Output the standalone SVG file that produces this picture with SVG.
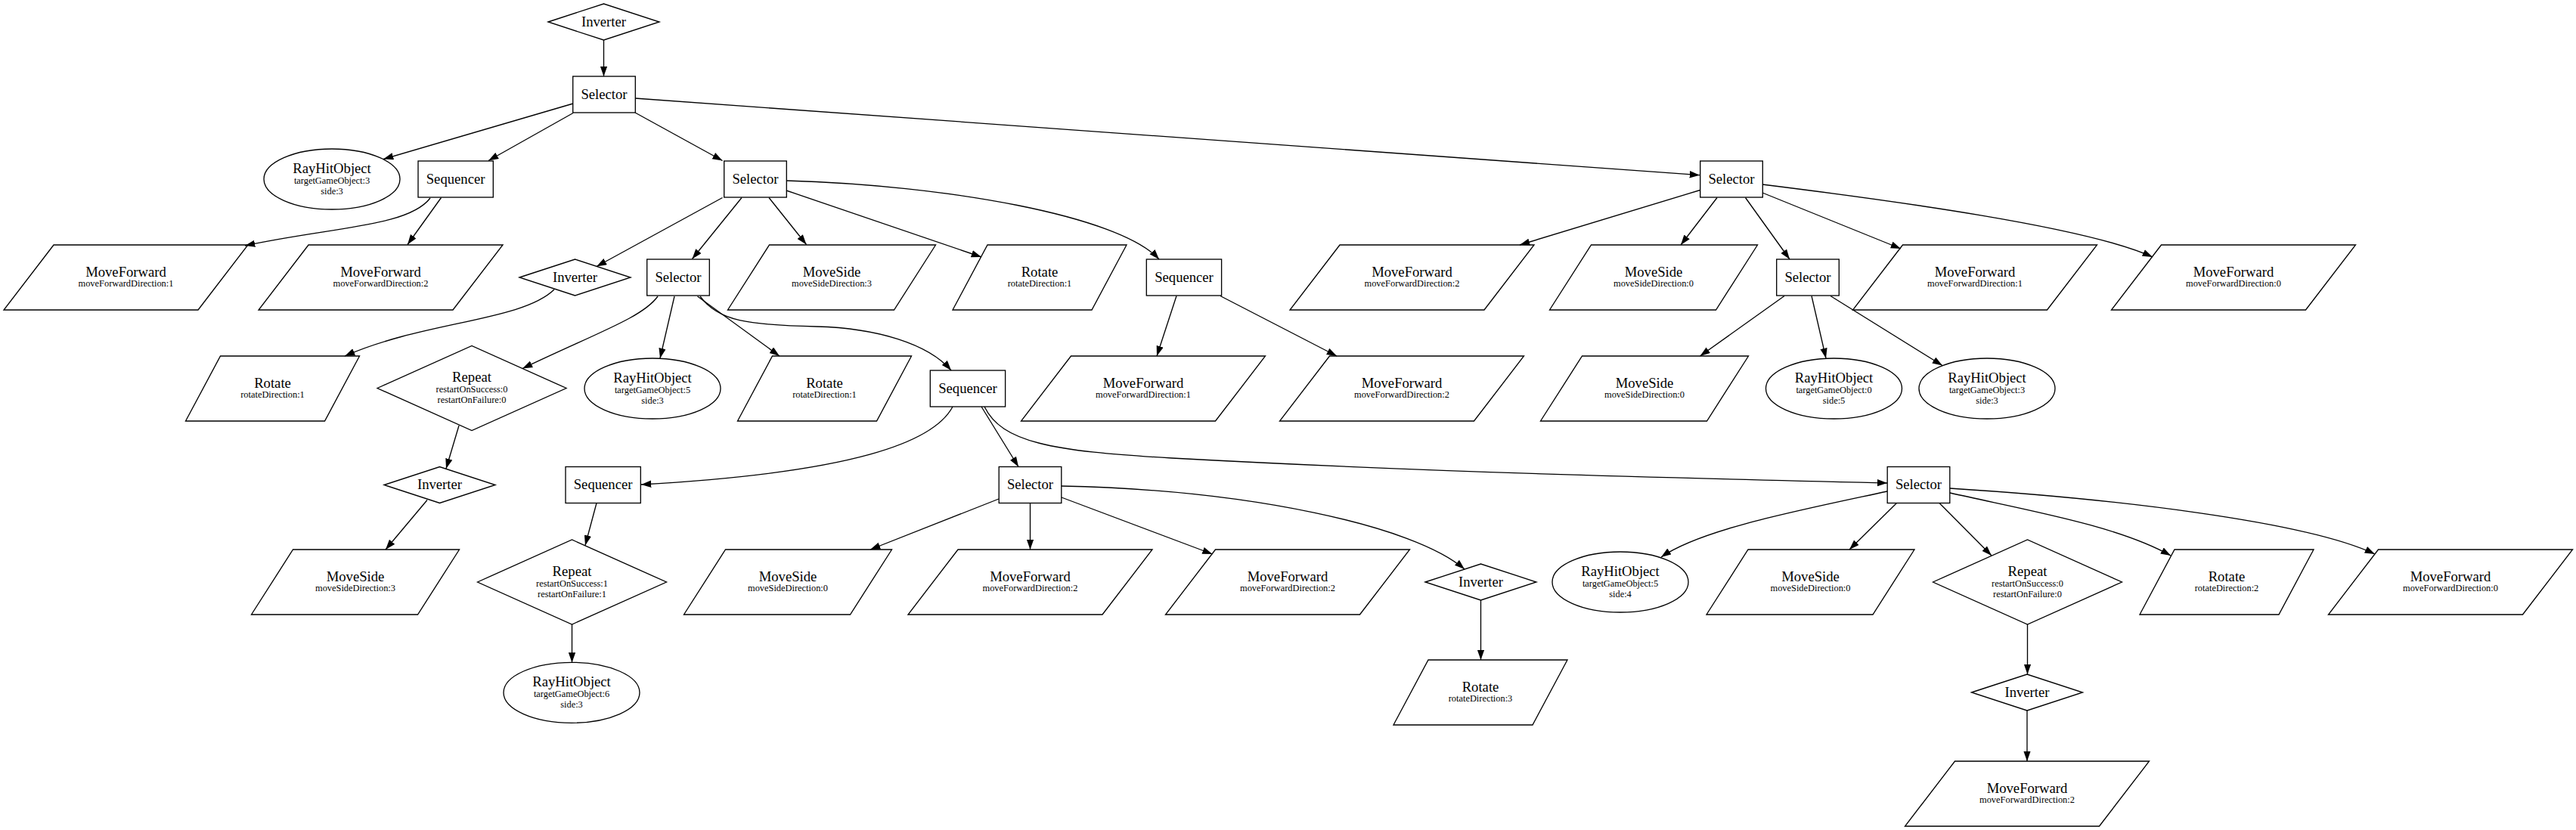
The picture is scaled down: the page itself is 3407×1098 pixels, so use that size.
<svg xmlns="http://www.w3.org/2000/svg" width="3407" height="1098" viewBox="0 0 3407 1098">
<style>
.n{fill:none;stroke:#000;stroke-width:1.33}
.e{fill:none;stroke:#000;stroke-width:1.33;marker-end:url(#arr)}
.t{font-family:"Liberation Serif","Times New Roman",serif;font-size:18.67px;text-anchor:middle;fill:#000}
.s{font-family:"Liberation Serif","Times New Roman",serif;font-size:12.4px;text-anchor:middle;fill:#000}
</style>
<defs>
<marker id="arr" markerUnits="userSpaceOnUse" markerWidth="14" markerHeight="10" refX="13.3" refY="4.67" orient="auto"><path d="M0,0 L13.3,4.67 L0,9.34 z" fill="#000"/></marker>
</defs>
<rect x="0" y="0" width="3407" height="1098" fill="#fff"/>
<g id="edges">
<path class="e" d="M798.5,53 L798.5,101"/>
<path class="e" d="M758,137 L507,210.5"/>
<path class="e" d="M758,149.5 L646,212.5"/>
<path class="e" d="M840,149 L955.5,212.5"/>
<path class="e" d="M840,130 L2248,231.7"/>
<path class="e" d="M569,262 C540,300 440,300 324,325"/>
<path class="e" d="M583.5,261.5 L539,323.5"/>
<path class="e" d="M955.5,261.5 L789,352.5"/>
<path class="e" d="M981,261.5 L915.5,342.5"/>
<path class="e" d="M1017,261.5 L1066.5,323.5"/>
<path class="e" d="M1040,252 L1298,340"/>
<path class="e" d="M1040,239 C1250,245 1480,285 1533,343"/>
<path class="e" d="M733,383 C690,425 560,425 456,471"/>
<path class="e" d="M870,392 C850,420 790,440 691,487.5"/>
<path class="e" d="M892,392 L873,474"/>
<path class="e" d="M922.5,392 L1031,471"/>
<path class="e" d="M926,392 C950,425 990,430 1080,432 C1160,434 1228,455 1258,490"/>
<path class="e" d="M1556,391.5 L1530,471"/>
<path class="e" d="M1614,391.5 L1768,471"/>
<path class="e" d="M1260,538 C1235,585 1130,625 848,641"/>
<path class="e" d="M1298,538 L1347,617.5"/>
<path class="e" d="M1302,538 C1325,585 1390,597 1550,606 C1900,625 2200,632 2496,639"/>
<path class="e" d="M1321,660 L1151,727"/>
<path class="e" d="M1362.5,665.5 L1362.5,727"/>
<path class="e" d="M1404,658 L1603.5,733"/>
<path class="e" d="M1404,643 C1650,648 1870,695 1937,753"/>
<path class="e" d="M1958.5,794 L1958.5,873"/>
<path class="e" d="M2360,391.5 L2248.5,471"/>
<path class="e" d="M2396,391.5 L2415,474"/>
<path class="e" d="M2421,391.5 L2569,483.5"/>
<path class="e" d="M2496,650 C2380,675 2250,700 2197,737"/>
<path class="e" d="M2508.5,665.5 L2446,727"/>
<path class="e" d="M2565,665.5 L2634,735"/>
<path class="e" d="M2579,652 C2680,675 2800,695 2871,735"/>
<path class="e" d="M2579,646 C2800,660 3050,690 3141,733"/>
<path class="e" d="M2681.5,826 L2681.5,892"/>
<path class="e" d="M2681,940 L2681,1007"/>
<path class="e" d="M2248.5,251.5 L2010,324"/>
<path class="e" d="M2271,261.5 L2223,324"/>
<path class="e" d="M2308.5,261.5 L2367,343"/>
<path class="e" d="M2331,255 L2514,329"/>
<path class="e" d="M2331,244 C2500,265 2760,300 2847,340"/>
<path class="e" d="M607,563 L590,620"/>
<path class="e" d="M565,661.5 L510,727"/>
<path class="e" d="M789,665.5 L774,721.5"/>
<path class="e" d="M756.5,826 L756.5,876.5"/>
</g>
<g id="n0"><polygon class="n" points="725,29 798.5,5 872,29 798.5,53"/><text class="t" x="798.5" y="34.5">Inverter</text></g>
<g id="n1"><rect class="n" x="757.7" y="101" width="82.6" height="48"/><text class="t" x="799" y="130.5">Selector</text></g>
<g id="n2"><ellipse class="n" cx="439" cy="237" rx="90" ry="40"/><text class="t" x="439" y="228.5">RayHitObject</text><text class="s" x="439" y="242.5">targetGameObject:3</text><text class="s" x="439" y="256.5">side:3</text></g>
<g id="n3"><rect class="n" x="553" y="213" width="99.3" height="48"/><text class="t" x="602.6" y="242.5">Sequencer</text></g>
<g id="n4"><rect class="n" x="957.7" y="213" width="82.6" height="48"/><text class="t" x="999" y="242.5">Selector</text></g>
<g id="n5"><rect class="n" x="2248.7" y="213" width="82.6" height="48"/><text class="t" x="2290" y="242.5">Selector</text></g>
<g id="n6"><polygon class="n" points="71,324 328,324 262,410 5,410"/><text class="t" x="166.5" y="365.5">MoveForward</text><text class="s" x="166.5" y="379">moveForwardDirection:1</text></g>
<g id="n7"><polygon class="n" points="408,324 665,324 599,410 342,410"/><text class="t" x="503.5" y="365.5">MoveForward</text><text class="s" x="503.5" y="379">moveForwardDirection:2</text></g>
<g id="n8"><polygon class="n" points="687,367 760.5,343 834,367 760.5,391"/><text class="t" x="760.5" y="372.5">Inverter</text></g>
<g id="n9"><rect class="n" x="855.7" y="343" width="82.6" height="48"/><text class="t" x="897" y="372.5">Selector</text></g>
<g id="n10"><polygon class="n" points="1017.5,324 1237.5,324 1182.5,410 962.5,410"/><text class="t" x="1100" y="365.5">MoveSide</text><text class="s" x="1100" y="379">moveSideDirection:3</text></g>
<g id="n11"><polygon class="n" points="1306,324 1490,324 1444,410 1260,410"/><text class="t" x="1375" y="365.5">Rotate</text><text class="s" x="1375" y="379">rotateDirection:1</text></g>
<g id="n12"><rect class="n" x="1516.3" y="343" width="99.3" height="48"/><text class="t" x="1566" y="372.5">Sequencer</text></g>
<g id="n13"><polygon class="n" points="1772,324 2029,324 1963,410 1706,410"/><text class="t" x="1867.5" y="365.5">MoveForward</text><text class="s" x="1867.5" y="379">moveForwardDirection:2</text></g>
<g id="n14"><polygon class="n" points="2104.5,324 2324.5,324 2269.5,410 2049.5,410"/><text class="t" x="2187" y="365.5">MoveSide</text><text class="s" x="2187" y="379">moveSideDirection:0</text></g>
<g id="n15"><rect class="n" x="2349.7" y="343" width="82.6" height="48"/><text class="t" x="2391" y="372.5">Selector</text></g>
<g id="n16"><polygon class="n" points="2516.5,324 2773.5,324 2707.5,410 2450.5,410"/><text class="t" x="2612" y="365.5">MoveForward</text><text class="s" x="2612" y="379">moveForwardDirection:1</text></g>
<g id="n17"><polygon class="n" points="2858.5,324 3115.5,324 3049.5,410 2792.5,410"/><text class="t" x="2954" y="365.5">MoveForward</text><text class="s" x="2954" y="379">moveForwardDirection:0</text></g>
<g id="n18"><polygon class="n" points="291.5,471 475.5,471 429.5,557 245.5,557"/><text class="t" x="360.5" y="512.5">Rotate</text><text class="s" x="360.5" y="526">rotateDirection:1</text></g>
<g id="n19"><polygon class="n" points="499,513.5 624,457.5 749,513.5 624,569.5"/><text class="t" x="624" y="505">Repeat</text><text class="s" x="624" y="519">restartOnSuccess:0</text><text class="s" x="624" y="533">restartOnFailure:0</text></g>
<g id="n20"><ellipse class="n" cx="863" cy="514" rx="90" ry="40"/><text class="t" x="863" y="505.5">RayHitObject</text><text class="s" x="863" y="519.5">targetGameObject:5</text><text class="s" x="863" y="533.5">side:3</text></g>
<g id="n21"><polygon class="n" points="1021.5,471 1205.5,471 1159.5,557 975.5,557"/><text class="t" x="1090.5" y="512.5">Rotate</text><text class="s" x="1090.5" y="526">rotateDirection:1</text></g>
<g id="n22"><rect class="n" x="1230.3" y="490" width="99.3" height="48"/><text class="t" x="1280" y="519.5">Sequencer</text></g>
<g id="n23"><polygon class="n" points="1416.5,471 1673.5,471 1607.5,557 1350.5,557"/><text class="t" x="1512" y="512.5">MoveForward</text><text class="s" x="1512" y="526">moveForwardDirection:1</text></g>
<g id="n24"><polygon class="n" points="1758.5,471 2015.5,471 1949.5,557 1692.5,557"/><text class="t" x="1854" y="512.5">MoveForward</text><text class="s" x="1854" y="526">moveForwardDirection:2</text></g>
<g id="n25"><polygon class="n" points="2092.5,471 2312.5,471 2257.5,557 2037.5,557"/><text class="t" x="2175" y="512.5">MoveSide</text><text class="s" x="2175" y="526">moveSideDirection:0</text></g>
<g id="n26"><ellipse class="n" cx="2425.5" cy="514" rx="90" ry="40"/><text class="t" x="2425.5" y="505.5">RayHitObject</text><text class="s" x="2425.5" y="519.5">targetGameObject:0</text><text class="s" x="2425.5" y="533.5">side:5</text></g>
<g id="n27"><ellipse class="n" cx="2628" cy="514" rx="90" ry="40"/><text class="t" x="2628" y="505.5">RayHitObject</text><text class="s" x="2628" y="519.5">targetGameObject:3</text><text class="s" x="2628" y="533.5">side:3</text></g>
<g id="n28"><polygon class="n" points="508,641.5 581.5,617.5 655,641.5 581.5,665.5"/><text class="t" x="581.5" y="647">Inverter</text></g>
<g id="n29"><rect class="n" x="748" y="617.5" width="99.3" height="48"/><text class="t" x="797.6" y="647">Sequencer</text></g>
<g id="n30"><rect class="n" x="1321.2" y="617.5" width="82.6" height="48"/><text class="t" x="1362.5" y="647">Selector</text></g>
<g id="n31"><rect class="n" x="2496.2" y="617.5" width="82.6" height="48"/><text class="t" x="2537.5" y="647">Selector</text></g>
<g id="n32"><polygon class="n" points="387.5,727 607.5,727 552.5,813 332.5,813"/><text class="t" x="470" y="768.5">MoveSide</text><text class="s" x="470" y="782">moveSideDirection:3</text></g>
<g id="n33"><polygon class="n" points="631.5,770 756.5,714 881.5,770 756.5,826"/><text class="t" x="756.5" y="761.5">Repeat</text><text class="s" x="756.5" y="775.5">restartOnSuccess:1</text><text class="s" x="756.5" y="789.5">restartOnFailure:1</text></g>
<g id="n34"><polygon class="n" points="959.5,727 1179.5,727 1124.5,813 904.5,813"/><text class="t" x="1042" y="768.5">MoveSide</text><text class="s" x="1042" y="782">moveSideDirection:0</text></g>
<g id="n35"><polygon class="n" points="1267,727 1524,727 1458,813 1201,813"/><text class="t" x="1362.5" y="768.5">MoveForward</text><text class="s" x="1362.5" y="782">moveForwardDirection:2</text></g>
<g id="n36"><polygon class="n" points="1607.5,727 1864.5,727 1798.5,813 1541.5,813"/><text class="t" x="1703" y="768.5">MoveForward</text><text class="s" x="1703" y="782">moveForwardDirection:2</text></g>
<g id="n37"><polygon class="n" points="1885,770 1958.5,746 2032,770 1958.5,794"/><text class="t" x="1958.5" y="775.5">Inverter</text></g>
<g id="n38"><ellipse class="n" cx="2143" cy="770" rx="90" ry="40"/><text class="t" x="2143" y="761.5">RayHitObject</text><text class="s" x="2143" y="775.5">targetGameObject:5</text><text class="s" x="2143" y="789.5">side:4</text></g>
<g id="n39"><polygon class="n" points="2312,727 2532,727 2477,813 2257,813"/><text class="t" x="2394.5" y="768.5">MoveSide</text><text class="s" x="2394.5" y="782">moveSideDirection:0</text></g>
<g id="n40"><polygon class="n" points="2556.5,770 2681.5,714 2806.5,770 2681.5,826"/><text class="t" x="2681.5" y="761.5">Repeat</text><text class="s" x="2681.5" y="775.5">restartOnSuccess:0</text><text class="s" x="2681.5" y="789.5">restartOnFailure:0</text></g>
<g id="n41"><polygon class="n" points="2876,727 3060,727 3014,813 2830,813"/><text class="t" x="2945" y="768.5">Rotate</text><text class="s" x="2945" y="782">rotateDirection:2</text></g>
<g id="n42"><polygon class="n" points="3145.5,727 3402.5,727 3336.5,813 3079.5,813"/><text class="t" x="3241" y="768.5">MoveForward</text><text class="s" x="3241" y="782">moveForwardDirection:0</text></g>
<g id="n43"><ellipse class="n" cx="756" cy="916.3" rx="90" ry="40"/><text class="t" x="756" y="907.8">RayHitObject</text><text class="s" x="756" y="921.8">targetGameObject:6</text><text class="s" x="756" y="935.8">side:3</text></g>
<g id="n44"><polygon class="n" points="1889,873 2073,873 2027,959 1843,959"/><text class="t" x="1958" y="914.5">Rotate</text><text class="s" x="1958" y="928">rotateDirection:3</text></g>
<g id="n45"><polygon class="n" points="2607.5,916 2681,892 2754.5,916 2681,940"/><text class="t" x="2681" y="921.5">Inverter</text></g>
<g id="n46"><polygon class="n" points="2585.5,1007 2842.5,1007 2776.5,1093 2519.5,1093"/><text class="t" x="2681" y="1048.5">MoveForward</text><text class="s" x="2681" y="1062">moveForwardDirection:2</text></g>
</svg>
